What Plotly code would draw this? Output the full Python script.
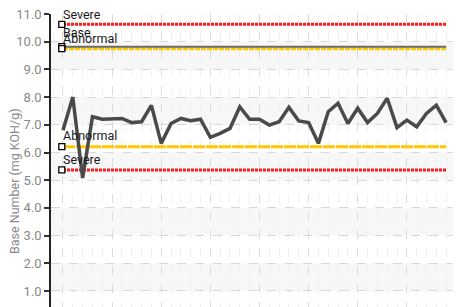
import plotly.graph_objects as go

# Data
sample_index = list(range(40))
base_number = [6.8, 8.0, 5.08, 7.29, 7.2, 7.2, 7.23, 7.08, 7.11, 7.7,
               6.33, 7.05, 7.23, 7.15, 7.2, 6.55, 6.69, 6.87, 7.65, 7.2,
               7.2, 6.99, 7.11, 7.63, 7.14, 7.08, 6.33, 7.47, 7.78, 7.05,
               7.6, 7.08, 7.41, 7.96, 6.9, 7.17, 6.93, 7.41, 7.71, 7.08]

limit_names = ["Severe", "Base", "Abnormal", "Abnormal", "Severe"]
limit_values = [10.63, 9.82, 9.75, 6.21, 5.37]
limit_colors = ["#ff1a1a", "#6a6a6a", "#ffc800", "#ffc800", "#ff1a1a"]
limit_dash = ["3px,1px", "solid", "5px,1px", "12px,1px", "3px,1px"]
label_offsets = [2, 7, 3, 4, 3]

y_ticks = [1.0, 2.0, 3.0, 4.0, 5.0, 6.0, 7.0, 8.0, 9.0, 10.0, 11.0]

fig = go.Figure()

shapes = []
for lo in [1, 3, 5, 7, 9]:
    shapes.append(dict(type="rect", xref="paper", x0=0, x1=1, yref="y", y0=lo, y1=lo + 1,
                       fillcolor="#f7f7f7", line=dict(width=0), layer="below"))

x0 = sample_index[0]
x1 = sample_index[-1]
order = [2, 3, 4, 0, 1]
for i in order:
    fig.add_trace(go.Scatter(x=[x0, x1], y=[limit_values[i]] * 2, mode="lines",
                             line=dict(color=limit_colors[i], width=3 if i != 1 else 2,
                                       dash=limit_dash[i]),
                             hoverinfo="skip", showlegend=False))

fig.add_trace(go.Scatter(x=sample_index, y=base_number, mode="lines",
                         line=dict(color="#4a4a4a", width=3.5), showlegend=False))

fig.add_trace(go.Scatter(x=[-0.12] * len(limit_values), y=limit_values, mode="markers",
                         marker=dict(symbol="square", size=6, color="white",
                                     line=dict(color="black", width=1.3)),
                         showlegend=False, hoverinfo="skip"))

for name, v, off in zip(limit_names, limit_values, label_offsets):
    fig.add_annotation(x=-0.05, y=v, xref="x", yref="y", text=name, showarrow=False,
                       xanchor="left", yanchor="bottom", yshift=off - 1, borderpad=0,
                       font=dict(family="Roboto", size=12.5, color="#1a1a1a"))

fig.add_annotation(text="Base Number (mg KOH/g)", showarrow=False, textangle=-90,
                   xref="paper", yref="paper", x=-0.092, y=0.43,
                   xanchor="center", yanchor="middle",
                   font=dict(family="Roboto", size=12.5, color="#8a8a8a"))

# page body has an 8px default margin; compensate so the chart lands where the reference is
fig.update_layout(
    width=458, height=299,
    margin=dict(l=43, r=13, t=6, b=0),
    plot_bgcolor="white", paper_bgcolor="white",
    shapes=shapes,
    xaxis=dict(range=[-1.22, 39.7], showticklabels=False, ticks="",
               showgrid=True, gridcolor="#dcdcdc", griddash="dash", gridwidth=1,
               tick0=0, dtick=5, zeroline=False, showline=False,
               minor=dict(dtick=1, showgrid=True, gridcolor="#f0f0f0", griddash="dash")),
    yaxis=dict(range=[0.422, 11.001], tickvals=y_ticks, tickformat=".1f",
               ticks="outside", ticklen=5, tickcolor="#333", tickwidth=1.5,
               showline=True, linecolor="#222", linewidth=1.5,
               showgrid=True, gridcolor="#d8d8d8", griddash="dash",
               zeroline=False, ticklabeloverflow="allow",
               tickfont=dict(family="Roboto", size=13, color="#888888")),
)

fig.write_html("out.html")
